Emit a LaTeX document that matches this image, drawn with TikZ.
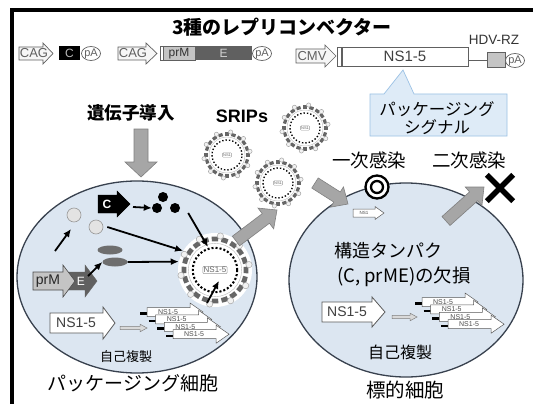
\documentclass[tikz,border=0pt]{standalone}
\usepackage{fontspec}
\setmainfont{Liberation Sans}
\newfontfamily\jp{Noto Sans CJK JP}
\usetikzlibrary{shapes.geometric,arrows.meta,calc}

\definecolor{cellfill}{HTML}{DCE6F1}
\definecolor{celledge}{HTML}{38414E}
\definecolor{blockgray}{HTML}{A6A6A6}
\definecolor{blockedge}{HTML}{808080}
\definecolor{callfill}{HTML}{DEEBF7}
\definecolor{calledge}{HTML}{9CC2E5}
\definecolor{darkE}{HTML}{606060}
\definecolor{midgray}{HTML}{C4C4C4}
\definecolor{ringgray}{HTML}{666666}
\definecolor{protgray}{HTML}{6E6E6E}

% horizontal block arrow: [style]{x start}{x tip}{x head base}{y centre}{half shaft}{half head}
\newcommand\hArrow[7][]{\draw[#1] (#2,{#5-#6}) -- (#4,{#5-#6}) -- (#4,{#5-#7}) -- (#3,#5) -- (#4,{#5+#7}) -- (#4,{#5+#6}) -- (#2,{#5+#6}) -- cycle;}

% block arrow between two named coordinates: [style]{from}{to}{half shaft}{half head}{head length}
\newcommand\blockArrow[6][]{%
  \coordinate (ba-h) at ($(#3)!#6!(#2)$);
  \draw[#1] ($(#2)!#4!90:(#3)$) -- ($(ba-h)!#4!-90:(#2)$) -- ($(ba-h)!#5!-90:(#2)$) -- (#3)
    -- ($(ba-h)!#5!90:(#2)$) -- ($(ba-h)!#4!90:(#2)$) -- ($(#2)!#4!-90:(#3)$) -- cycle;}

% four staggered replicon copies: {name prefix}{x}{y}
\newcommand\nsStack[3]{%
  \foreach \i in {0,...,3}{%
    \pgfmathsetmacro\sx{#2+8.7*\i}%
    \pgfmathsetmacro\sy{#3+7.4*\i}%
    \draw[line width=2.4pt] ({\sx-7},{\sy+1.5}) -- (\sx,{\sy+1.5});
    \hArrow[stackbox]{\sx}{\sx+56}{\sx+43}{\sy}{4.5}{9}
    \node[stacktxt] (#1\i) at ({\sx+21},\sy) {NS1-5};
  }}

\tikzset{
  jpt/.style={font=\jp\fontsize{#1}{#1}\selectfont, inner sep=0pt},
  jpb/.style={font=\jp\bfseries\fontsize{#1}{#1}\selectfont, inner sep=0pt},
  cell/.style={ellipse, draw=celledge, line width=1.3pt, fill=cellfill, inner sep=0pt},
  blk/.style={fill=blockgray, draw=blockedge, line width=0.6pt, line join=miter},
  ptr/.style={-{Latex[length=8pt,width=7pt]}, line width=1.8pt},
  prom/.style={fill=gray!7, draw=gray!75!black, line width=0.7pt},
  promtxt/.style={font=\fontsize{13}{13}\selectfont, text=gray!75!black, inner sep=0pt},
  pa/.style={ellipse, draw=gray!75!black, fill=white, line width=0.7pt, minimum width=19pt,
    minimum height=14pt, inner sep=0pt, font=\fontsize{11}{11}\selectfont, text=gray!75!black},
  genebox/.style={minimum height=14pt, inner sep=0pt, font=\fontsize{12}{12}\selectfont},
  nsarrow/.style={fill=white, draw=gray!70!black, line width=0.8pt},
  nstxt/.style={font=\fontsize{14}{14}\selectfont, text=black!75, inner sep=0pt},
  stackbox/.style={fill=white, draw=gray!70!black, line width=0.5pt},
  stacktxt/.style={font=\fontsize{7}{7}\selectfont, text=black!70, inner sep=0pt},
  thinarrow/.style={fill=gray!30, draw=gray, line width=0.5pt},
  lightc/.style={circle, draw=gray!80, fill=gray!22, line width=0.6pt, minimum size=14pt, inner sep=0pt},
  prot/.style={ellipse, fill=protgray, minimum width=25pt, minimum height=9pt, inner sep=0pt},
  blob/.style={circle, fill=black, minimum size=10pt, inner sep=0pt},
  pics/srip/.style n args={3}{code={
    \fill[white] (0,0) circle ({#1*1pt});
    \foreach \a in {0,18,...,342}
      \draw[ringgray, line width={0.13*#1*1pt}] ({\a-6}:{0.84*#1*1pt})
        arc[start angle={\a-6}, end angle={\a+6}, radius={0.84*#1*1pt}];
    \draw[gray!55, line width=0.4pt] (0,0) circle ({0.72*#1*1pt});
    \foreach \a in {9,45,...,333}
      \draw[gray!70, fill=gray!10, line width=0.5pt] (\a:{0.93*#1*1pt}) circle ({0.085*#1*1pt});
    \draw[line width={0.055*#1*1pt}, dotted] (0,0) circle ({0.6*#1*1pt});
    \node[draw=gray!80, fill=white, rounded corners=1pt, inner sep=0.8pt, text=gray!80!black,
      font=\fontsize{#3}{#3}\selectfont] (-core) at (0,0) {#2};
  }}
}

\begin{document}
\begin{tikzpicture}[x=1pt,y=-1pt]
\useasboundingbox (0,0) rectangle (533,404);
\fill[white] (0,0) rectangle (533,404);
\draw[line width=4pt] (12,404) -- (12,10) -- (533,10);

\node[jpb=19] (title) at (282,27) {3種のレプリコンベクター};

% capsid vector
\hArrow[prom]{19}{53}{43}{53.5}{6.5}{10.5}
\node[promtxt] (cag1) at (34,53.5) {CAG};
\node[genebox, fill=black, minimum width=21pt, text=gray!55] (cgen) at (69.5,53.5) {C};
\node[pa] (pa1) at (91,53.5) {pA};
% envelope vector
\hArrow[prom]{118}{157}{146}{53.5}{6.5}{10.5}
\node[promtxt] (cag2) at (133,53.5) {CAG};
\node[genebox, draw=gray!75!black, fill=white, minimum width=3pt] (sig2) at (161.5,53.5) {};
\node[genebox, draw=gray!75!black, fill=midgray, minimum width=32pt, text=gray!40!black] (prm) at (179,53.5) {prM};
\node[genebox, fill=darkE, minimum width=57pt, text=gray!35] (egen) at (223.5,53.5) {E};
\node[pa] (pa2) at (262,53.5) {pA};
% replicon vector
\hArrow[prom]{296}{336}{325}{56}{7}{11}
\node[promtxt] (cmv) at (312,56) {CMV};
\node[genebox, draw=gray!75!black, fill=white, minimum width=4pt, minimum height=19pt] (sig3) at (339.5,56.5) {};
\node[genebox, draw=gray!75!black, fill=white, minimum width=126pt, minimum height=19pt,
  font=\fontsize{15}{15}\selectfont, text=black!75] (nsv) at (405,56.5) {NS1-5};
\node[genebox, draw=gray!75!black, fill=midgray, minimum width=18pt, minimum height=15pt] (hdv) at (496,60) {};
\draw[gray!75!black, line width=0.8pt] (nsv.east |- hdv.west) -- (hdv.west);
\node[pa] (pa3) at (515,60.5) {pA};
\node[font=\fontsize{13.5}{13.5}\selectfont, text=black!80, inner sep=0pt] (hdvlbl) at (494,40) {HDV-RZ};

% packaging-signal callout
\draw[fill=callfill, draw=calledge, line width=0.7pt] (370,94) -- (384,94) -- (403,70) -- (414,94)
  -- (507,94) -- (507,136) -- (370,136) -- cycle;
\node[jpt=16.5] (pkg1) at (437,109) {パッケージング};
\node[jpt=16.5] (pkg2) at (437,127) {シグナル};

% gene transfer and released particles
\node[jpb=17.5] (gt) at (131,113) {遺伝子導入};
\coordinate (gts) at (141,129);
\coordinate (gtt) at (141,177);
\node[font=\bfseries\fontsize{18}{18}\selectfont, inner sep=0pt] (srips) at (242,116) {SRIPs};
\pic (srA) at (227,155) {srip={25}{NS1}{4}};
\pic (srB) at (305,128) {srip={25}{NS1}{4}};
\pic (srC) at (278,183) {srip={25}{NS1}{4}};

% cells
\node[cell, minimum width=240pt, minimum height=192pt] (pcell) at (137,277) {};
\node[cell, minimum width=234pt, minimum height=194pt] (tcell) at (406,280) {};
\blockArrow[blk]{gts}{gtt}{7pt}{16pt}{15pt}

% packaging cell contents
\hArrow[fill=black]{98}{130}{117}{204}{9}{13}
\node[font=\bfseries\fontsize{12}{12}\selectfont, text=white, inner sep=0pt] (cgene) at (107,204) {C};
\node[blob] (d1) at (163,197) {};
\node[blob] (d2) at (157,208) {};
\node[blob] (d3) at (175,208) {};
\coordinate (ctip) at (133,207);
\draw[ptr] (ctip) -- (d2.west);

\node[lightc] (lc1) at (74,215) {};
\node[lightc] (lc2) at (96,227) {};
\node[prot] (gp1) at (110,250) {};
\node[prot] (gp2) at (115,262) {};
\hArrow[fill=darkE, draw=darkE]{66}{97}{85}{281}{9}{16}
\node[font=\fontsize{12}{12}\selectfont, text=white, inner sep=0pt] (egene) at (81,281) {E};
\hArrow[fill=midgray, draw=gray!60!black, line width=0.6pt]{33}{75}{63}{281}{9}{16}
\node[font=\fontsize{14}{14}\selectfont, text=gray!30!black, inner sep=0pt] (prmgene) at (48,281.5) {prM};
\coordinate (pe1) at (55,251);
\coordinate (pe1e) at (71,229);
\draw[ptr] (pe1) -- (pe1e);
\coordinate (pe2) at (88,276);
\draw[ptr] (pe2) -- (gp2.west);

\node[circle, minimum size=74pt, inner sep=0pt] (bigp) at (215,270) {};
\pic (srD) at (215,270) {srip={37}{NS1-5}{8}};
\draw[ptr] ([xshift=4pt]lc2.east) -- (bigp.149);
\draw[ptr] ([shift={(8pt,-5pt)}]d3.east) -- ($(bigp.center)+(-7,-23)$);
\draw[ptr] (gp2.east) -- (bigp.167);

\hArrow[nsarrow]{50}{115}{103}{323}{10}{16}
\node[nstxt] (nsL) at (76,323) {NS1-5};
\hArrow[thinarrow]{120}{147}{140}{328}{1.6}{3.8}
\nsStack{ls}{147}{312}
\coordinate (stkL) at (207,303);
\draw[ptr] (stkL) -- ([shift={(4pt,-7pt)}]srD-core.south);
\node[jpt=13] (selfL) at (126,357) {自己複製};
\node[jpt=19] (pkgcell) at (133,383) {パッケージング細胞};

% target cell contents
\node[circle, draw, line width=2.3pt, fill=white, minimum size=23pt, inner sep=0pt] (prim) at (377,187) {};
\node[circle, draw, line width=2.3pt, minimum size=12pt, inner sep=0pt] (primc) at (prim.center) {};
\hArrow[stackbox]{353}{384}{375}{213}{4}{6.5}
\node[font=\fontsize{4.5}{4.5}\selectfont, inner sep=0pt, text=black!70] (ns1s) at (364,213) {NS1};
\node[jpt=18] (lack1) at (388,251) {構造タンパク};
\node[jpt=18.5] (lack2) at (404,277) {(C, prME)の欠損};
\hArrow[nsarrow]{322}{385}{372}{312}{10}{15}
\node[nstxt] (nsR) at (347,312) {NS1-5};
\hArrow[thinarrow]{392}{417}{410}{317}{1.6}{3.8}
\nsStack{rs}{422}{302}
\node[jpt=16] (selfR) at (400,352) {自己複製};
\node[jpt=19.5] (tgtcell) at (405,390) {標的細胞};

% release and infection arrows
\coordinate (rel1) at (236,241); \coordinate (rel2) at (277,210);
\blockArrow[blk]{rel1}{rel2}{6pt}{13pt}{14pt}
\coordinate (inf1) at (315,183); \coordinate (inf2) at (348,204);
\blockArrow[blk]{inf1}{inf2}{6pt}{12pt}{13pt}
\coordinate (out1) at (446,221); \coordinate (out2) at (484,187);
\blockArrow[blk]{out1}{out2}{6pt}{12.5pt}{14pt}

\node[jpt=18.5] (ichiji) at (369,160) {一次感染};
\node[jpt=18.5] (niji) at (469,160) {二次感染};
\node[inner sep=0pt, minimum size=26pt] (xmark) at (500,188) {};
\draw[line width=5.5pt] (xmark.north west) -- (xmark.south east);
\draw[line width=5.5pt] (xmark.north east) -- (xmark.south west);
\end{tikzpicture}
\end{document}
